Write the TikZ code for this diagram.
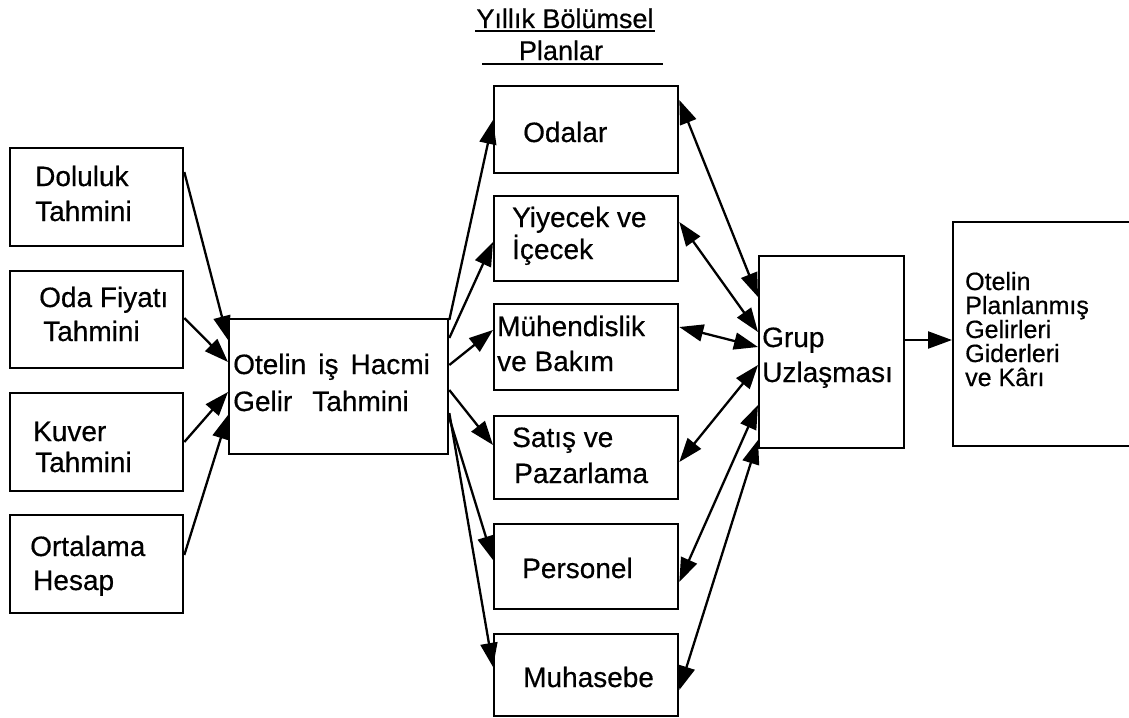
\documentclass[tikz,border=0pt]{standalone}
\usepackage{fontspec}
\setmainfont{Liberation Sans}
\newfontfamily\scanfont{Liberation Sans}[FakeBold=0.5]
\usetikzlibrary{arrows.meta}
\begin{document}
\begin{tikzpicture}[x=1pt,y=-1pt,
 box/.style={draw, line width=2.3pt, inner sep=0pt, anchor=north west},
 txt/.style={inner sep=0pt, anchor=base west, font=\scanfont\fontsize{28}{35}\selectfont},
 stxt/.style={inner sep=0pt, anchor=base west, font=\scanfont\fontsize{25}{28}\selectfont},
 ttl/.style={inner sep=0pt, anchor=base, font=\scanfont\fontsize{27}{32}\selectfont},
 arr/.style={line width=2.3pt, -{Triangle[length=24pt,width=17pt]}},
 darr/.style={line width=2.3pt, {Triangle[length=24pt,width=17pt]}-{Triangle[length=24pt,width=17pt]}},
 uline/.style={line width=1.8pt}]
\useasboundingbox (0,0) rectangle (1129,717);
% boxes
\node[box, minimum width=173pt, minimum height=98pt] (dol) at (9,147) {};
\node[box, minimum width=173pt, minimum height=97pt] (oda) at (9,270) {};
\node[box, minimum width=173pt, minimum height=98pt] (kuv) at (9,392) {};
\node[box, minimum width=173pt, minimum height=98pt] (ort) at (9,514) {};
\node[box, minimum width=219pt, minimum height=135pt] (otel) at (228,318) {};
\node[box, minimum width=184pt, minimum height=87pt] (odl) at (493,85) {};
\node[box, minimum width=184pt, minimum height=85pt] (yiy) at (493,195) {};
\node[box, minimum width=184pt, minimum height=86pt] (muh) at (493,303) {};
\node[box, minimum width=184pt, minimum height=83pt] (sat) at (493,415) {};
\node[box, minimum width=184pt, minimum height=85pt] (per) at (493,523) {};
\node[box, minimum width=184pt, minimum height=82pt] (mhs) at (493,633) {};
\node[box, minimum width=145pt, minimum height=192pt] (grup) at (758,255) {};
\node[box, minimum width=182pt, minimum height=224pt] (res) at (952,221) {};
% texts
\node[txt] (t1) at (35,186) {Doluluk};
\node[txt] (t2) at (35,221) {Tahmini};
\node[txt] (t3) at (39,307) {Oda Fiyatı};
\node[txt] (t4) at (43,341) {Tahmini};
\node[txt] (t5) at (33,441) {Kuver};
\node[txt] (t6) at (35,472) {Tahmini};
\node[txt] (t7) at (30,556) {Ortalama};
\node[txt] (t8) at (33,590) {Hesap};
\node[txt] (t9) at (233,374) {Otelin\hspace{12pt}iş\hspace{12pt}Hacmi};
\node[txt] (t10) at (233,411) {Gelir\hspace{20pt}Tahmini};
\node[ttl] (h1) at (565,28) {Yıllık Bölümsel};
\node[ttl] (h2) at (561,60) {Planlar};
\node[txt] (m1) at (523,142) {Odalar};
\node[txt] (m2) at (512,227) {Yiyecek ve};
\node[txt] (m3) at (512,259) {İçecek};
\node[txt] (m4) at (497,336) {Mühendislik};
\node[txt] (m5) at (497,371) {ve Bakım};
\node[txt] (m6) at (512,447) {Satış ve};
\node[txt] (m7) at (514,483) {Pazarlama};
\node[txt] (m8) at (522,578) {Personel};
\node[txt] (m9) at (523,687) {Muhasebe};
\node[txt] (g1) at (762,347) {Grup};
\node[txt] (g2) at (762,382) {Uzlaşması};
\node[stxt] (r1) at (965,290) {Otelin};
\node[stxt] (r2) at (965,314) {Planlanmış};
\node[stxt] (r3) at (965,338) {Gelirleri};
\node[stxt] (r4) at (965,362) {Giderleri};
\node[stxt] (r5) at (965,386) {ve Kârı};
% title underlines
\draw[uline] (475,31) -- (655,31);
\draw[uline] (482,64) -- (663,64);
% left inputs
\draw[arr] ([yshift=-25pt]dol.north east) -- ([yshift=-22pt]otel.north west);
\draw[arr] ([yshift=-48pt]oda.north east) -- ([yshift=-44pt]otel.north west);
\draw[arr] ([yshift=-50pt]kuv.north east) -- ([yshift=-74pt]otel.north west);
\draw[arr] ([yshift=-41pt]ort.north east) -- ([yshift=-97pt]otel.north west);
% to departments
\draw[arr] ([yshift=-2pt]otel.north east) -- ([yshift=-35pt]odl.north west);
\draw[arr] ([yshift=-20pt]otel.north east) -- ([yshift=-47pt]yiy.north west);
\draw[arr] ([yshift=-47pt]otel.north east) -- ([yshift=-27pt]muh.north west);
\draw[arr] ([yshift=-72pt]otel.north east) -- ([yshift=-30pt]sat.north west);
\draw[arr] ([yshift=-100pt]otel.north east) -- ([yshift=-37pt]per.north west);
\draw[arr] ([yshift=-95pt]otel.north east) -- ([yshift=-34pt]mhs.north west);
% departments <-> group
\draw[darr] ([yshift=-15pt]odl.north east) -- ([yshift=-42pt]grup.north west);
\draw[darr] ([yshift=-27pt]yiy.north east) -- ([yshift=-77pt]grup.north west);
\draw[darr] ([yshift=-24pt]muh.north east) -- ([yshift=-92pt]grup.north west);
\draw[darr] ([yshift=-47pt]sat.north east) -- ([yshift=-110pt]grup.north west);
\draw[darr] ([yshift=-59pt]per.north east) -- ([yshift=-150pt]grup.north west);
\draw[darr] ([yshift=-57pt]mhs.north east) -- ([yshift=-185pt]grup.north west);
% result
\draw[arr] ([yshift=-85pt]grup.north east) -- ([yshift=-119pt]res.north west);
\end{tikzpicture}
\end{document}
